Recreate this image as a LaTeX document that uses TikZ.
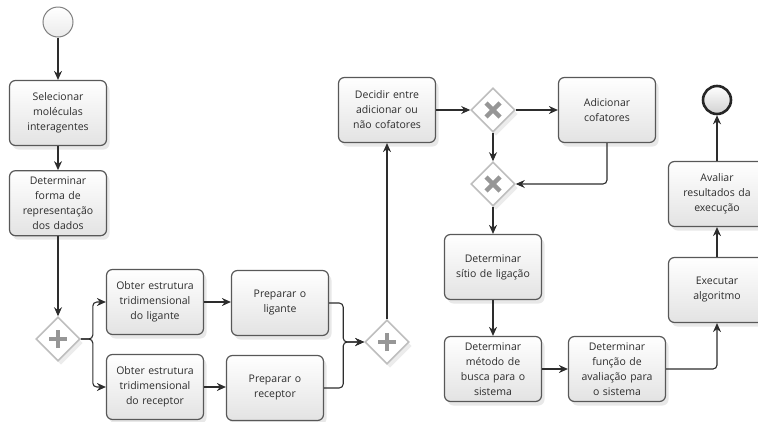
\documentclass[tikz,border=0pt]{standalone}
\usepackage{fontspec}
\setmainfont{Open Sans}
\usepackage{xcolor}
\usepackage{tikz}
\usetikzlibrary{shapes.geometric, arrows.meta, positioning, shadows}
\definecolor{textgray}{RGB}{45, 45, 45}
\definecolor{boxgray}{RGB}{88, 88, 88}
\definecolor{gategray}{RGB}{190, 190, 190}
\definecolor{markgray}{RGB}{150, 150, 150}
\definecolor{flowgray}{RGB}{45, 45, 45}

\begin{document}
\begin{tikzpicture}[
    x=1pt, y=-1pt,
    task/.style={rectangle, draw=boxgray, line width=1.2pt, rounded corners=6pt,
                 top color=white, bottom color=black!11,
                 minimum width=97pt, minimum height=65pt, text width=91pt,
                 font=\fontsize{10.5}{15}\selectfont, text=textgray, align=center,
                 inner sep=2pt,
                 drop shadow={opacity=0.18, shadow xshift=3pt, shadow yshift=-4pt}},
    gate/.style={diamond, draw=gategray, line width=1.6pt, fill=white,
                 minimum size=44pt, inner sep=0pt,
                 drop shadow={opacity=0.15, shadow xshift=3pt, shadow yshift=-4pt}},
    gatemark/.style={line width=4.5pt, markgray},
    startev/.style={circle, draw=black!50, line width=1pt, minimum size=30pt,
                    inner sep=0pt, top color=white, bottom color=black!8},
    endev/.style={circle, draw=black!85, line width=2.6pt, minimum size=28pt,
                  inner sep=0pt, top color=white, bottom color=black!18},
    flow/.style={-{Stealth[length=9pt, width=8pt]}, line width=1.1pt, flowgray,
                 rounded corners=4pt},
]
\useasboundingbox (0,0) rectangle (758,421);

%% ── left column ─────────────────────────────────────────────────────────────
\node[startev]                  (start)  at (58,22)    {};
\node[task]                     (sel)    at (58,113)   {Selecionar\\moléculas\\interagentes};
\node[task, below=24pt of sel]  (forma)                {Determinar\\forma de\\representação\\dos dados};
\node[gate]                     (g1)     at (58,339)   {};

%% ── split: ligante / receptor ───────────────────────────────────────────────
\node[task]                     (obtL)   at (155,302)  {Obter estrutura\\tridimensional\\do ligante};
\node[task]                     (obtR)   at (155,387)  {Obter estrutura\\tridimensional\\do receptor};
\node[task]                     (prepL)  at (280,303)  {Preparar o\\ligante};
\node[task]                     (prepR)  at (275,388)  {Preparar o\\receptor};
\node[gate]                     (g2)     at (387,342)  {};

%% ── cofatores ───────────────────────────────────────────────────────────────
\node[task]                     (dec)    at (387,110)  {Decidir entre\\adicionar ou\\não cofatores};
\node[gate]                     (x1)     at (493,110)  {};
\node[task]                     (adic)   at (607,110)  {Adicionar\\cofatores};
\node[gate]                     (x2)     at (493,184)  {};

%% ── busca e avaliação ───────────────────────────────────────────────────────
\node[task]                     (sitio)  at (493,267)  {Determinar\\sítio de ligação};
\node[task]                     (metodo) at (493,369)  {Determinar\\método de\\busca para o\\sistema};
\node[task]                     (func)   at (617,369)  {Determinar\\função de\\avaliação para\\o sistema};
\node[task]                     (exec)   at (717,290)  {Executar\\algoritmo};
\node[task]                     (aval)   at (717,194)  {Avaliar\\resultados da\\execução};
\node[endev]                    (fim)    at (717,100)  {};

%% ── gateway marks ───────────────────────────────────────────────────────────
\foreach \g in {g1, g2} {
  \draw[gatemark] ([xshift=-9pt]\g.center) -- ([xshift=9pt]\g.center)
                  ([yshift=-9pt]\g.center) -- ([yshift=9pt]\g.center);
}
\foreach \g in {x1, x2} {
  \draw[gatemark] ([shift={(-7,-7)}]\g.center) -- ([shift={(7,7)}]\g.center)
                  ([shift={(-7,7)}]\g.center) -- ([shift={(7,-7)}]\g.center);
}

%% ── flows ───────────────────────────────────────────────────────────────────
\draw[flow] (start) -- (sel);
\draw[flow] (sel) -- (forma);
\draw[flow] (forma) -- (g1);

% split
\draw[flow] (g1.east) -- ++(12,0) |- (obtL.west);
\draw[flow] (g1.east) -- ++(12,0) |- (obtR.west);
\draw[flow] (obtL) -- (obtL -| prepL.west);
\draw[flow] (obtR) -- (obtR -| prepR.west);

% join
\draw[flow] (prepL.east) -| ([xshift=-21pt]g2.west) -- (g2.west);
\draw[flow] (prepR.east) -| ([xshift=-21pt]g2.west) -- (g2.west);
\draw[flow] (g2.north) -- (g2.north |- dec.south);

% cofatores
\draw[flow] (dec.east) -- (x1.west);
\draw[flow] (x1.east) -- (adic.west);
\draw[flow] (x1.south) -- (x2.north);
\draw[flow] (adic.south) |- (x2.east);
\draw[flow] (x2.south) -- (sitio.north);

% busca / avaliação
\draw[flow] (sitio) -- (metodo);
\draw[flow] (metodo.east) -- (func.west);
\draw[flow] (func.east) -| (exec.south);
\draw[flow] (exec) -- (aval);
\draw[flow] (aval) -- (fim);

\end{tikzpicture}
\end{document}
